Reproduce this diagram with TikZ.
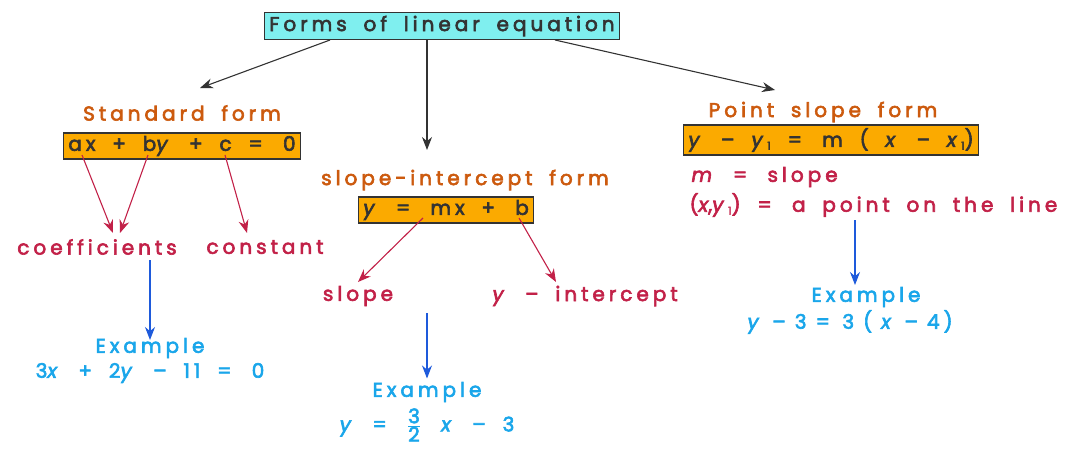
\documentclass[tikz,border=0pt]{standalone}
\usepackage{fontspec}
\setmainfont[LetterSpace=20,WordSpace=1.8,FakeBold=3]{Poppins}
\usetikzlibrary{arrows.meta}
\definecolor{titlecyan}{HTML}{7FEFEF}
\definecolor{boxorange}{HTML}{FBAA00}
\definecolor{headbrown}{HTML}{CC5A0E}
\definecolor{termred}{HTML}{C22148}
\definecolor{exblue}{HTML}{1AA6EA}
\definecolor{arrowblue}{HTML}{1E5ADB}
\definecolor{inkgray}{HTML}{333333}
\tikzset{
  titlebox/.style={draw=inkgray,line width=1.2pt,fill=titlecyan,text=inkgray,
    inner xsep=5pt,inner ysep=3pt,font=\fontsize{20}{22}\selectfont},
  eqbox/.style={draw=inkgray,line width=1.2pt,fill=boxorange,text=inkgray,
    inner xsep=5pt,inner ysep=3pt,font=\fontsize{20}{22}\selectfont},
  head/.style={text=headbrown,font=\fontsize{20}{22}\selectfont},
  term/.style={text=termred,font=\fontsize{20}{22}\selectfont},
  example/.style={text=exblue,font=\fontsize{20}{22}\selectfont},
  darkarrow/.style={-{Stealth[length=13pt,width=10pt]},inkgray,line width=1.1pt},
  redarrow/.style={-{Stealth[length=13pt,width=10pt]},termred,line width=1.1pt},
  bluearrow/.style={-{Stealth[length=13pt,width=10pt]},arrowblue,line width=1.1pt}
}
\newcommand{\vy}{\textit{y}}
\newcommand{\vx}{\textit{x}}
\newcommand{\sub}[1]{\raisebox{-3pt}{\fontsize{11}{11}\selectfont #1}}
\begin{document}
\begin{tikzpicture}[x=1pt,y=-1pt]
    \useasboundingbox (0,0) rectangle (1075,450);
    %title
    \node[titlebox] (title) at (442,26) {Forms of linear equation};
    %standard form
    \node[head] (sfhead) at (182,113) {Standard form};
    \node[eqbox] (sfbox) at (182,146) {ax + b\vy{} + c =\, 0};
    \node[term] (coef) at (97,247) {coefficients};
    \node[term] (const) at (265,247) {constant};
    \node[example] (sfex) at (150,348) {Example};
    \node[example] (sfexeq) at (150,373) {3\vx{} + 2\vy{} – 11 =\, 0};
    %slope-intercept form
    \node[head] (sihead) at (465,180) {slope-intercept form};
    \node[eqbox] (sibox) at (446,210) {\vy{} =\, mx +\, b};
    \node[term] (slope) at (358,296) {slope};
    \node[term] (yint) at (585,296) {\vy{} – intercept};
    \node[example] (siex) at (427,392) {Example};
    \node[example] (siexeq) at (427,425) {\vy{} =\, $\frac{\mbox{3}}{\mbox{2}}$\, \vx{} – 3};
    %point slope form
    \node[head] (pshead) at (823,112) {Point slope form};
    \node[eqbox] (psbox) at (831,140) {\vy{} – \vy\sub{1} =\, m ( \vx{} – \vx\sub{1})};
    \node[term,anchor=west] (psm) at (688,177) {\textit{m} =\, slope};
    \node[term,anchor=west] (pspt) at (686,205) {(\vx,\vy\sub{1}) =\, a point on the line};
    \node[example] (psex) at (866,297) {Example};
    \node[example] (psexeq) at (850,322) {\spaceskip=9pt\vy{} – 3 =\, 3 ( \vx{} – 4)};
    %arrow ends
    \coordinate (tl) at (330,40);
    \coordinate (tm) at (427,40);
    \coordinate (tr) at (555,40);
    \coordinate (ax) at (82,155);
    \coordinate (by) at (148,155);
    \coordinate (cc) at (225,155);
    \coordinate (mx) at (423,218);
    \coordinate (bb) at (519,218);
    \coordinate (coefl) at (113,233);
    \coordinate (coefr) at (120,233);
    \coordinate (constt) at (247,233);
    \coordinate (slopet) at (358,282);
    \coordinate (yintt) at (556,282);
    %title arrows
    \draw[darkarrow] (tl) -- (200,88);
    \draw[darkarrow] (tm) -- (427,150);
    \draw[darkarrow] (tr) -- (775,90);
    %red arrows
    \draw[redarrow] (ax) -- (coefl);
    \draw[redarrow] (by) -- (coefr);
    \draw[redarrow] (cc) -- (constt);
    \draw[redarrow] (mx) -- (slopet);
    \draw[redarrow] (bb) -- (yintt);
    %blue arrows
    \draw[bluearrow] (150,260) -- (150,340);
    \draw[bluearrow] (427,313) -- (siex.north);
    \draw[bluearrow] (855,220) -- (855,285);
\end{tikzpicture}
\end{document}
